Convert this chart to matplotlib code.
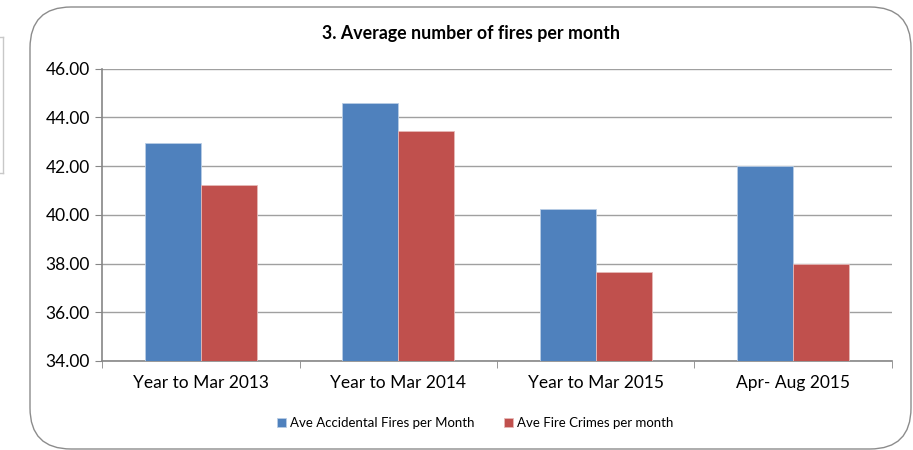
import matplotlib
matplotlib.use("Agg")
import matplotlib.pyplot as plt
from matplotlib.patches import FancyBboxPatch
import numpy as np

categories = ["Year to Mar 2013", "Year to Mar 2014", "Year to Mar 2015", "Apr- Aug 2015"]
accidental = [42.94, 44.58, 40.24, 42.00]
crimes = [41.24, 43.43, 37.65, 38.00]
series_names = ["Ave Accidental Fires per Month", "Ave Fire Crimes per month"]
title = "3. Average number of fires per month"
yticks = [34, 36, 38, 40, 42, 44, 46]

plt.rcParams['font.family'] = ['Lato', 'DejaVu Sans']

W, H = 913, 450
fig = plt.figure(figsize=(W/100, H/100), dpi=100)

# outer rounded border
border = FancyBboxPatch((30/W, 1 - 449/H), (911 - 30)/W, (449 - 7)/H,
                        boxstyle="round,pad=0,rounding_size=0.045",
                        transform=fig.transFigure, fill=False,
                        edgecolor="#8c8c8c", linewidth=1.0, mutation_aspect=W/H)
fig.patches.append(border)
# partial neighbour box at left
fig.add_artist(plt.Line2D([0, 3/W], [1 - 37/H, 1 - 37/H], transform=fig.transFigure, color="#c8c8c8", lw=1))
fig.add_artist(plt.Line2D([3/W, 3/W], [1 - 37/H, 1 - 173/H], transform=fig.transFigure, color="#c8c8c8", lw=1))
fig.add_artist(plt.Line2D([0, 3/W], [1 - 173/H, 1 - 173/H], transform=fig.transFigure, color="#c8c8c8", lw=1))

left, right, top, bottom = 102.3, 891.7, 68.6, 361
ax = fig.add_axes([left/W, 1 - bottom/H, (right - left)/W, (bottom - top)/H])

x = np.arange(len(categories))
bw = 0.284
ax.bar(x - bw/2, np.array(accidental) - 34, bw, bottom=34, color="#4f81bd",
       edgecolor="#b9cde5", linewidth=0.6, label=series_names[0], zorder=3)
ax.bar(x + bw/2, np.array(crimes) - 34, bw, bottom=34, color="#c0504d",
       edgecolor="#e6b9b8", linewidth=0.6, label=series_names[1], zorder=3)

ax.set_xlim(-0.5, len(categories) - 0.5)
ax.set_ylim(34, 46)
ax.set_yticks(yticks)
ax.set_yticklabels([f"{v:.2f}" for v in yticks], fontsize=12.5, color="#000000")
ax.set_xticks(x)
ax.set_xticklabels(categories, fontsize=12.5)
ax.set_xticks(np.arange(len(categories) + 1) - 0.5, minor=True)
ax.tick_params(axis='x', which='major', length=0, pad=10)
ax.tick_params(axis='x', which='minor', length=5, color="#868686", direction='out')
ax.tick_params(axis='y', length=5, color="#868686", direction='out', pad=4)
ax.grid(axis='y', color="#a0a0a0", linewidth=1.0, zorder=0)
for s in ['top', 'right']:
    ax.spines[s].set_visible(False)
for s in ['left', 'bottom']:
    ax.spines[s].set_color("#868686")
    ax.spines[s].set_linewidth(1.2)

fig.text(470.5/W, 1 - 33/H, title, ha='center', va='center', fontsize=12.8, fontweight='bold')

fig.legend(loc='center', bbox_to_anchor=(475/W, 1 - 423/H), ncol=2, frameon=False,
           fontsize=9.5, handlelength=0.7, handleheight=0.7, handletextpad=0.3,
           columnspacing=2.2)

fig.savefig("out.png", dpi=100)
